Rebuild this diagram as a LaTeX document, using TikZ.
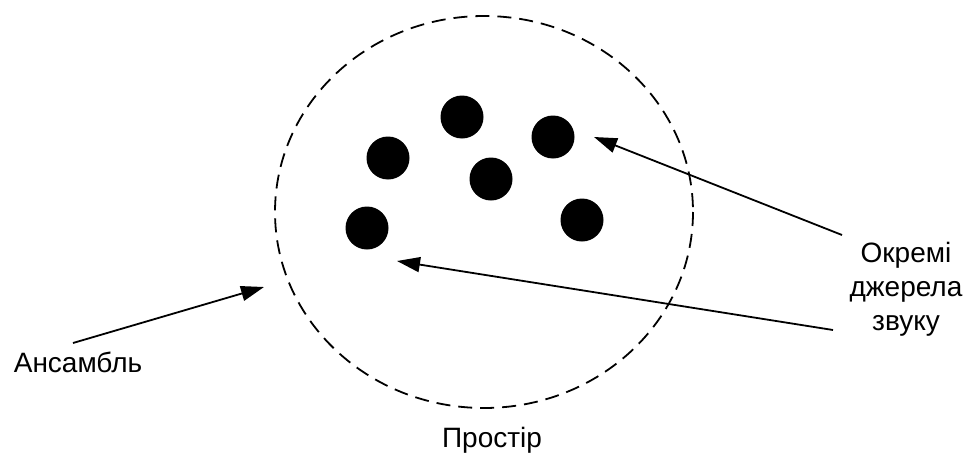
\documentclass[tikz,border=0pt]{standalone}
\usepackage{fontspec}
\setmainfont{Liberation Sans}
\usetikzlibrary{arrows.meta}
\begin{document}
\begin{tikzpicture}[x=1pt,y=-1pt,
  src/.style={circle,fill=black,inner sep=0pt,minimum size=43pt},
  lbl/.style={font=\fontsize{28}{34}\selectfont,inner sep=0pt,align=center},
  arr/.style={line width=1.8pt,-{Triangle[length=23pt,width=15pt]}},
  bound/.style={dash pattern=on 14pt off 8pt,line width=1.8pt}]
\useasboundingbox (0,0) rectangle (974,455);
\draw[bound] (484,212) ellipse [x radius=209, y radius=196];
\node[src] (s1) at (462,117) {};
\node[src] (s2) at (553,137) {};
\node[src] (s3) at (388,158) {};
\node[src] (s4) at (491,179) {};
\node[src] (s5) at (582,220) {};
\node[src] (s6) at (367,228) {};
\node[lbl] (ens) at (78,362) {Ансамбль};
\node[lbl] (ind) at (906,289) {Окремі\\джерела\\звуку};
\node[lbl] (space) at (492,440) {Простір};
\coordinate (t1) at (842,235);
\coordinate (h1) at (594,137);
\coordinate (t2) at (833,330);
\coordinate (h2) at (397,261);
\coordinate (t3) at (73,343);
\coordinate (h3) at (264,287);
\draw[arr] (t1) -- (h1);
\draw[arr] (t2) -- (h2);
\draw[arr] (t3) -- (h3);
\end{tikzpicture}
\end{document}
